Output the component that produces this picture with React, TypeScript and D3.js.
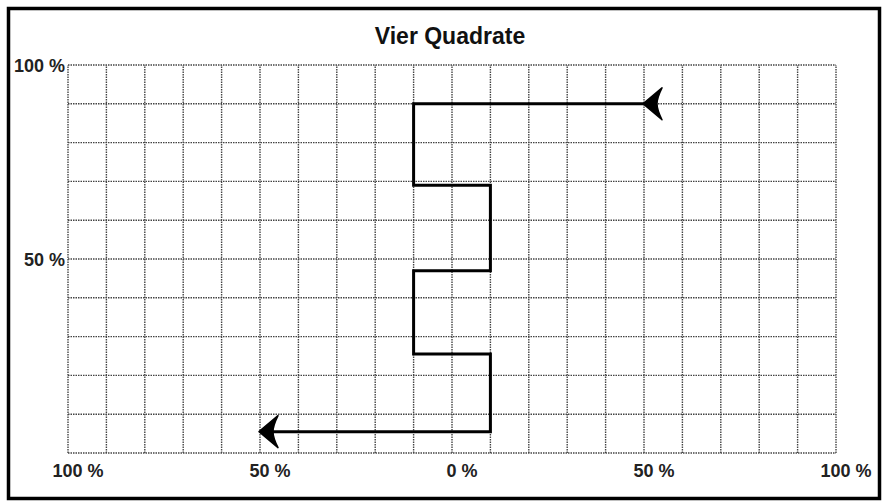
import React, { useEffect, useRef } from 'react';
import * as d3 from 'd3';

// horizontal axis: -100 % .. 100 %, vertical axis: 0 % .. 100 %
const xTickValues = [-100, -50, 0, 50, 100];
const xTickLabels = ['100 %', '50 %', '0 %', '50 %', '100 %'];
const yTickValues = [100, 50];
const yTickLabels = ['100 %', '50 %'];

// zigzag line, in percent
const pathX = [50, -10, -10, 10, 10, -10, -10, 10, 10, -50];
const pathY = [90, 90, 69, 69, 47, 47, 25.5, 25.5, 5.5, 5.5];

const App = () => {
  const ref = useRef<SVGSVGElement | null>(null);

  useEffect(() => {
    const width = 885;
    const height = 504;
    const svg = d3.select(ref.current);
    svg.selectAll('*').remove();

    const x = d3.scaleLinear().domain([-100, 100]).range([68, 836]);
    const y = d3.scaleLinear().domain([0, 100]).range([453, 65]);

    svg.append('rect').attr('width', width).attr('height', height).attr('fill', '#fff');

    // frame
    svg
      .append('rect')
      .attr('x', 8.5)
      .attr('y', 8.5)
      .attr('width', 871)
      .attr('height', 490)
      .attr('fill', 'none')
      .attr('stroke', '#000')
      .attr('stroke-width', 3.5);

    svg
      .append('text')
      .attr('x', 450)
      .attr('y', 44)
      .attr('text-anchor', 'middle')
      .style('font-family', 'Liberation Sans, Arial, sans-serif')
      .style('font-weight', 'bold')
      .style('font-size', '23px')
      .attr('fill', '#111')
      .text('Vier Quadrate');

    // dotted grid
    const grid = svg.append('g').attr('stroke', '#444').attr('stroke-width', 1.4).attr('stroke-dasharray', '1.5,1');
    grid
      .selectAll('line.v')
      .data(d3.range(-100, 101, 10))
      .enter()
      .append('line')
      .attr('x1', (d) => x(d))
      .attr('x2', (d) => x(d))
      .attr('y1', y(0))
      .attr('y2', y(100));
    grid
      .selectAll('line.h')
      .data(d3.range(0, 101, 10))
      .enter()
      .append('line')
      .attr('x1', x(-100))
      .attr('x2', x(100))
      .attr('y1', (d) => y(d))
      .attr('y2', (d) => y(d));

    const labelFont = (s: any) =>
      s
        .style('font-family', 'Liberation Sans, Arial, sans-serif')
        .style('font-weight', 'bold')
        .style('font-size', '18px')
        .attr('fill', '#222');

    svg
      .selectAll('text.xl')
      .data(xTickValues)
      .enter()
      .append('text')
      .attr('x', (d) => x(d) + 10)
      .attr('y', 477)
      .attr('text-anchor', 'middle')
      .call(labelFont)
      .text((d, i) => xTickLabels[i]);

    svg
      .selectAll('text.yl')
      .data(yTickValues)
      .enter()
      .append('text')
      .attr('x', 65)
      .attr('y', (d) => y(d) + 7)
      .attr('text-anchor', 'end')
      .call(labelFont)
      .text((d, i) => yTickLabels[i]);

    const pts = pathX.map((v, i) => [x(v), y(pathY[i])] as [number, number]);
    svg
      .append('path')
      .attr('d', d3.line()(pts))
      .attr('fill', 'none')
      .attr('stroke', '#000')
      .attr('stroke-width', 3)
      .attr('stroke-linejoin', 'miter');

    // left-pointing arrowheads at both ends
    const arrow = 'M-1,0 L18,-16 Q13,-6 13,0 Q13,6 18,16 Z';
    svg
      .selectAll('path.arrow')
      .data([pts[0], pts[pts.length - 1]])
      .enter()
      .append('path')
      .attr('d', arrow)
      .attr('transform', (d) => `translate(${d[0]},${d[1]})`)
      .attr('fill', '#000')
      .attr('stroke', '#000')
      .attr('stroke-width', 1.5)
      .attr('stroke-linejoin', 'round');
  }, []);

  return <svg ref={ref} width={885} height={504} style={{ position: 'absolute', left: 0, top: 0 }} />;
};

export default App;
